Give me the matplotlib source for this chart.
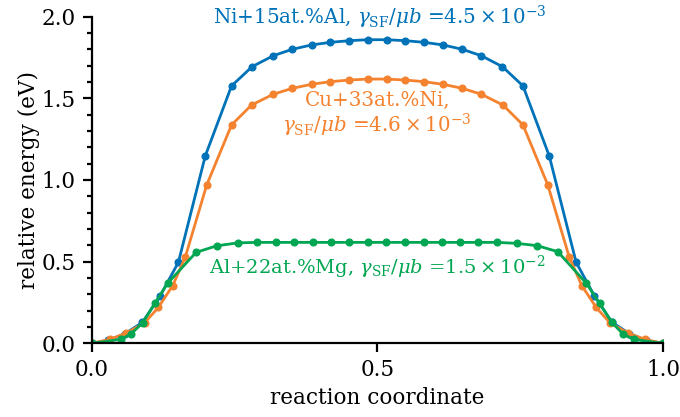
import numpy as np
import matplotlib
matplotlib.use("Agg")
from matplotlib import pyplot as plt
from matplotlib.ticker import MultipleLocator

plt.rcParams['font.family'] = ['DejaVu Serif']
plt.rcParams['mathtext.fontset'] = 'dejavuserif'

# Ni+15at.%Al
x_ni = [0, 0.029, 0.059, 0.089, 0.12, 0.152, 0.199, 0.245, 0.281, 0.318, 0.351, 0.385,
        0.418, 0.451, 0.483, 0.517, 0.549, 0.582, 0.615, 0.649, 0.682, 0.719, 0.755,
        0.801, 0.848, 0.88, 0.911, 0.941, 0.971, 1.0]
y_ni = [0, 0.018, 0.06, 0.128, 0.29, 0.496, 1.147, 1.576, 1.694, 1.761, 1.800, 1.827,
        1.843, 1.853, 1.859, 1.859, 1.853, 1.843, 1.827, 1.800, 1.761, 1.694, 1.576,
        1.147, 0.496, 0.29, 0.128, 0.06, 0.018, 0]

# Cu+33at.%Ni
x_cu = [0, 0.032, 0.061, 0.093, 0.117, 0.142, 0.164, 0.2015, 0.245, 0.280, 0.318, 0.351,
        0.385, 0.418, 0.451, 0.483, 0.517, 0.549, 0.582, 0.615, 0.649, 0.682, 0.720,
        0.755, 0.7985, 0.836, 0.858, 0.883, 0.907, 0.939, 0.968, 1.0]
y_cu = [0, 0.024, 0.063, 0.126, 0.22, 0.353, 0.527, 0.969, 1.337, 1.459, 1.525, 1.561,
        1.586, 1.602, 1.612, 1.618, 1.618, 1.612, 1.602, 1.586, 1.561, 1.525, 1.459,
        1.337, 0.969, 0.527, 0.353, 0.22, 0.126, 0.063, 0.024, 0]

# Al+22at.%Mg
x_al = [0, 0.051, 0.069, 0.0895, 0.111, 0.133, 0.183, 0.219, 0.256, 0.289, 0.322, 0.355,
        0.387, 0.419, 0.451, 0.484, 0.516, 0.549, 0.581, 0.613, 0.645, 0.677, 0.710,
        0.744, 0.780, 0.816, 0.866, 0.889, 0.910, 0.930, 0.949, 1.0]
y_al = [0, 0.024, 0.057, 0.126, 0.245, 0.367, 0.557, 0.597, 0.615, 0.618, 0.618, 0.618,
        0.618, 0.618, 0.618, 0.618, 0.618, 0.618, 0.618, 0.618, 0.618, 0.618, 0.618,
        0.612, 0.598, 0.561, 0.367, 0.245, 0.13, 0.057, 0.024, 0]

labels = [r"Ni+15at.%Al, $\gamma_{\rm SF}/\mu b$ =$4.5\times10^{-3}$",
          "Cu+33at.%Ni,\n" + r"$\gamma_{\rm SF}/\mu b$ =$4.6\times10^{-3}$",
          r"Al+22at.%Mg, $\gamma_{\rm SF}/\mu b$ =$1.5\times10^{-2}$"]
colors = ['#0072b8', '#f4822f', '#00a651']

fig = plt.figure(figsize=(6.8, 4.17), dpi=100)
ax = fig.add_axes([0.1346, 0.1767, 0.8404, 0.7833])

for xs, ys, c in zip([x_ni, x_cu, x_al], [y_ni, y_cu, y_al], colors):
    ax.plot(xs, ys, '-o', color=c, lw=2, ms=4.8)

ax.text(0.505, 1.95, labels[0], color=colors[0], ha='center', va='baseline', fontsize=14.3)
ax.text(0.5, 1.29, labels[1], color=colors[1], ha='center', va='baseline', fontsize=14.3,
        multialignment='center', linespacing=1.1)
ax.text(0.5, 0.425, labels[2], color=colors[2], ha='center', va='baseline', fontsize=14)

ax.set_xlim(0, 1)
ax.set_ylim(0, 2)
ax.set_xticks([0, 0.5, 1])
ax.set_xticklabels(['0.0', '0.5', '1.0'])
ax.yaxis.set_major_locator(MultipleLocator(0.5))
ax.yaxis.set_minor_locator(MultipleLocator(0.1))
ax.spines['top'].set_visible(False)
ax.spines['right'].set_visible(False)
for s in ['left', 'bottom']:
    ax.spines[s].set_linewidth(1.6)
ax.tick_params(which='major', length=6.5, width=1.6, labelsize=15.5, pad=5)
ax.tick_params(which='minor', length=3.5, width=1.6)
ax.set_xlabel('reaction coordinate', fontsize=15.5, labelpad=4)
ax.set_ylabel('relative energy (eV)', fontsize=15.5, labelpad=1)

fig.savefig('out.png', dpi=100)
